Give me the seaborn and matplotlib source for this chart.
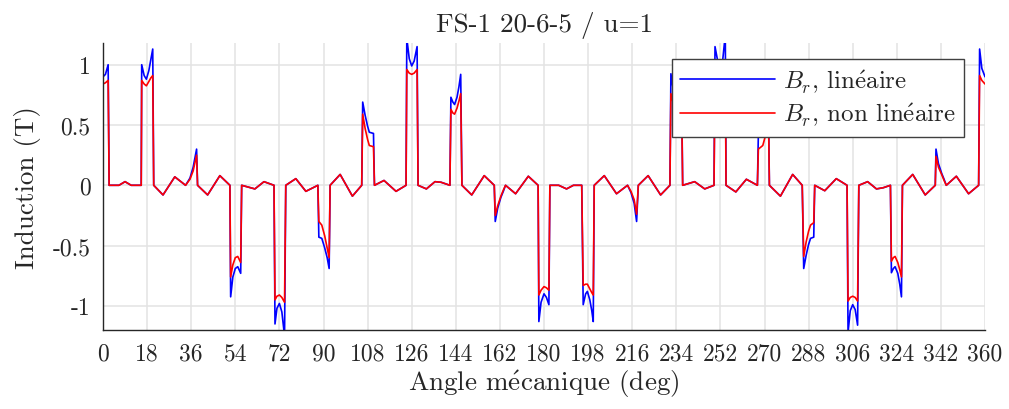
import matplotlib
matplotlib.use("Agg")
import matplotlib.pyplot as plt
import seaborn as sns
import pandas as pd

# ---- data ----
angle = [
    0, 1, 2.1, 2.5, 6.5, 9, 11.5, 15.6,
    15.8, 16.8, 17.7, 18.7, 19.5, 20.3, 20.7,
    24.5, 29.3, 33.7, 35.5, 36.8, 38.2, 38.6,
    42.7, 47.7, 51.8,
    52.1, 53, 54, 55, 56.2, 56.6,
    62, 65.7, 69.8,
    70.2, 71, 72, 73, 74.1, 74.6,
    78.7, 82.8, 87.7,
    88.1, 89.3, 90.5, 91.5, 92.3, 92.7,
    96.8, 101.8, 105.6,
    106, 107, 108, 108.7, 110.4, 110.8,
    114.7, 119.6, 123.7,
    124, 125, 126, 127, 128.2, 128.6,
    132, 135.5, 138, 141.6,
    142, 142.8, 143.5, 144.5, 145.3, 146, 146.5,
    150.5, 155.6, 159.7,
    160.1, 161.1, 162.4, 163.4, 164.3,
    168.4, 173.6, 177.6,
    177.9, 178.8, 180, 181, 182, 182.4,
    186, 189.2, 192, 195.4,
    196, 197, 197.7, 198.7, 199.5, 200.1, 200.5,
    204.6, 209.6, 214.1, 215.5, 216.8, 217.8, 218.5,
    222.5, 227.6, 231.4,
    231.8, 233, 234, 235, 236.2, 236.6,
    241.5, 245.6, 249.4,
    249.8, 251, 252, 253, 254, 254.3,
    258.3, 262.6, 267.1,
    267.5, 269.3, 270.5, 271.6, 272,
    276.5, 281.5, 285.4,
    286, 287, 288, 288.8, 290.1, 290.5,
    294.6, 299.3, 303.7,
    304.1, 305, 306, 307, 308, 308.5,
    312.1, 315.7, 318.5, 321.4,
    321.8, 322.6, 323.3, 324.4, 325.2, 325.9, 326.3,
    330.5, 335.6, 339.7,
    340, 341, 342.3, 343.3, 344.2,
    348.3, 353.3, 357.4,
    357.8, 358.7, 360,
]

b_lineaire = [
    0.90, 0.92, 1.00, 0, 0, 0.03, 0, 0,
    1.00, 0.91, 0.88, 0.95, 1.04, 1.13, 0,
    -0.08, 0.07, 0, 0.06, 0.15, 0.30, 0,
    -0.08, 0.08, 0,
    -0.925, -0.76, -0.69, -0.675, -0.73, 0,
    -0.03, 0.03, 0,
    -1.15, -1.02, -0.98, -1.05, -1.25, 0,
    0.055, -0.05, 0,
    -0.43, -0.44, -0.52, -0.60, -0.69, 0,
    0.09, -0.09, 0,
    0.69, 0.58, 0.49, 0.44, 0.43, 0,
    0.04, -0.05, 0,
    1.22, 1.05, 0.99, 1.03, 1.15, 0,
    -0.03, 0.03, 0.025, 0,
    0.73, 0.69, 0.67, 0.73, 0.82, 0.92, 0,
    -0.08, 0.08, 0,
    -0.30, -0.19, -0.10, -0.05, 0,
    -0.07, 0.075, 0,
    -1.13, -0.97, -0.90, -0.93, -0.99, 0,
    0, -0.03, 0, 0,
    -0.99, -0.90, -0.88, -0.95, -1.04, -1.13, 0,
    0.08, -0.07, 0, -0.06, -0.15, -0.30, 0,
    0.08, -0.08, 0,
    0.925, 0.76, 0.69, 0.675, 0.73, 0,
    0.03, -0.03, 0,
    1.15, 1.02, 0.98, 1.05, 1.25, 0,
    -0.055, 0.05, 0,
    0.43, 0.44, 0.52, 0.69, 0,
    -0.09, 0.09, 0,
    -0.69, -0.58, -0.49, -0.44, -0.43, 0,
    -0.045, 0.055, 0,
    -1.22, -1.04, -0.99, -1.03, -1.16, 0,
    0.03, -0.03, -0.02, 0,
    -0.725, -0.69, -0.675, -0.73, -0.82, -0.925, 0,
    0.09, -0.08, 0,
    0.30, 0.18, 0.10, 0.05, 0,
    0.075, -0.07, 0,
    1.13, 0.97, 0.90,
]

b_non_lineaire = [
    0.84, 0.85, 0.87, 0, 0, 0.03, 0, 0,
    0.87, 0.84, 0.825, 0.86, 0.89, 0.91, 0,
    -0.08, 0.07, 0, 0.05, 0.12, 0.25, 0,
    -0.08, 0.08, 0,
    -0.76, -0.66, -0.60, -0.59, -0.64, 0,
    -0.03, 0.03, 0,
    -0.95, -0.92, -0.91, -0.93, -0.97, 0,
    0.055, -0.05, 0,
    -0.30, -0.33, -0.42, -0.52, -0.60, 0,
    0.09, -0.09, 0,
    0.59, 0.47, 0.38, 0.33, 0.32, 0,
    0.04, -0.05, 0,
    0.96, 0.93, 0.92, 0.93, 0.96, 0,
    -0.03, 0.03, 0.025, 0,
    0.63, 0.60, 0.59, 0.64, 0.70, 0.76, 0,
    -0.08, 0.08, 0,
    -0.25, -0.17, -0.09, -0.04, 0,
    -0.07, 0.075, 0,
    -0.91, -0.87, -0.84, -0.85, -0.87, 0,
    0, -0.03, 0, 0,
    -0.83, -0.82, -0.82, -0.86, -0.89, -0.91, 0,
    0.08, -0.07, 0, -0.05, -0.12, -0.24, 0,
    0.08, -0.08, 0,
    0.76, 0.66, 0.60, 0.59, 0.64, 0,
    0.03, -0.03, 0,
    0.95, 0.92, 0.91, 0.93, 0.97, 0,
    -0.055, 0.05, 0,
    0.30, 0.33, 0.42, 0.60, 0,
    -0.09, 0.09, 0,
    -0.59, -0.47, -0.38, -0.33, -0.31, 0,
    -0.045, 0.055, 0,
    -0.96, -0.93, -0.92, -0.93, -0.96, 0,
    0.03, -0.03, -0.02, 0,
    -0.63, -0.60, -0.59, -0.64, -0.70, -0.76, 0,
    0.09, -0.08, 0,
    0.24, 0.15, 0.09, 0.04, 0,
    0.075, -0.07, 0,
    0.91, 0.87, 0.84,
]

x_ticks = list(range(0, 361, 18))
y_ticks = [-1, -0.5, 0, 0.5, 1]
y_tick_labels = ["-1", "-0.5", "0", "0.5", "1"]

title = "FS-1 20-6-5 / u=1"
x_label = r"Angle m$\acute{\mathrm{e}}$canique (deg)"
y_label = "Induction (T)"
label_lin = r"$B_r$, lin$\acute{\mathrm{e}}$aire"
label_nonlin = r"$B_r$, non lin$\acute{\mathrm{e}}$aire"

df = pd.DataFrame({"angle": angle, "lin": b_lineaire, "nonlin": b_non_lineaire})

sns.set_theme(style="white")
plt.rcParams["font.family"] = ["cmr10", "DejaVu Serif"]
plt.rcParams["mathtext.fontset"] = "cm"
plt.rcParams["axes.unicode_minus"] = False

fig = plt.figure(figsize=(10.09, 4.10), dpi=100)
ax = fig.add_axes([103 / 1009, 79 / 410, 882 / 1009, 287 / 410])

sns.lineplot(data=df, x="angle", y="lin", ax=ax, color=(0, 0, 1), lw=1.2,
             label=label_lin, estimator=None, sort=False)
sns.lineplot(data=df, x="angle", y="nonlin", ax=ax, color=(1, 0, 0), lw=1.2,
             label=label_nonlin, estimator=None, sort=False)

ax.set_xlim(0, 360)
ax.set_ylim(-1.2, 1.18)
ax.set_xticks(x_ticks)
ax.set_xticklabels([str(t) for t in x_ticks])
ax.set_yticks(y_ticks)
ax.set_yticklabels(y_tick_labels)

ax.grid(True, color="#e3e3e3", lw=1.1)
ax.set_axisbelow(True)
for s in ["top", "right"]:
    ax.spines[s].set_visible(False)
for s in ["left", "bottom"]:
    ax.spines[s].set_color("#262626")
    ax.spines[s].set_linewidth(1.0)
ax.tick_params(direction="in", length=6, width=1.0, color="#262626",
               labelsize=17, labelcolor="#262626")
ax.tick_params(axis="x", pad=9)
ax.tick_params(axis="y", pad=9)

ax.set_title(title, fontsize=19.5, color="#262626", pad=9)
ax.set_xlabel(x_label, fontsize=19.5, color="#262626", labelpad=2)
ax.set_ylabel(y_label, fontsize=19.5, color="#262626", labelpad=8)

leg = ax.legend(loc="upper right", bbox_to_anchor=(0.9765, 0.945), fontsize=18,
                frameon=True, fancybox=False, edgecolor="#404040",
                handlelength=3.8, borderpad=0.35, labelspacing=0.25,
                handletextpad=0.3, borderaxespad=0)
leg.get_frame().set_linewidth(1.0)
leg.get_frame().set_facecolor("white")
leg.get_frame().set_alpha(1)

fig.savefig("out.png", dpi=100)
